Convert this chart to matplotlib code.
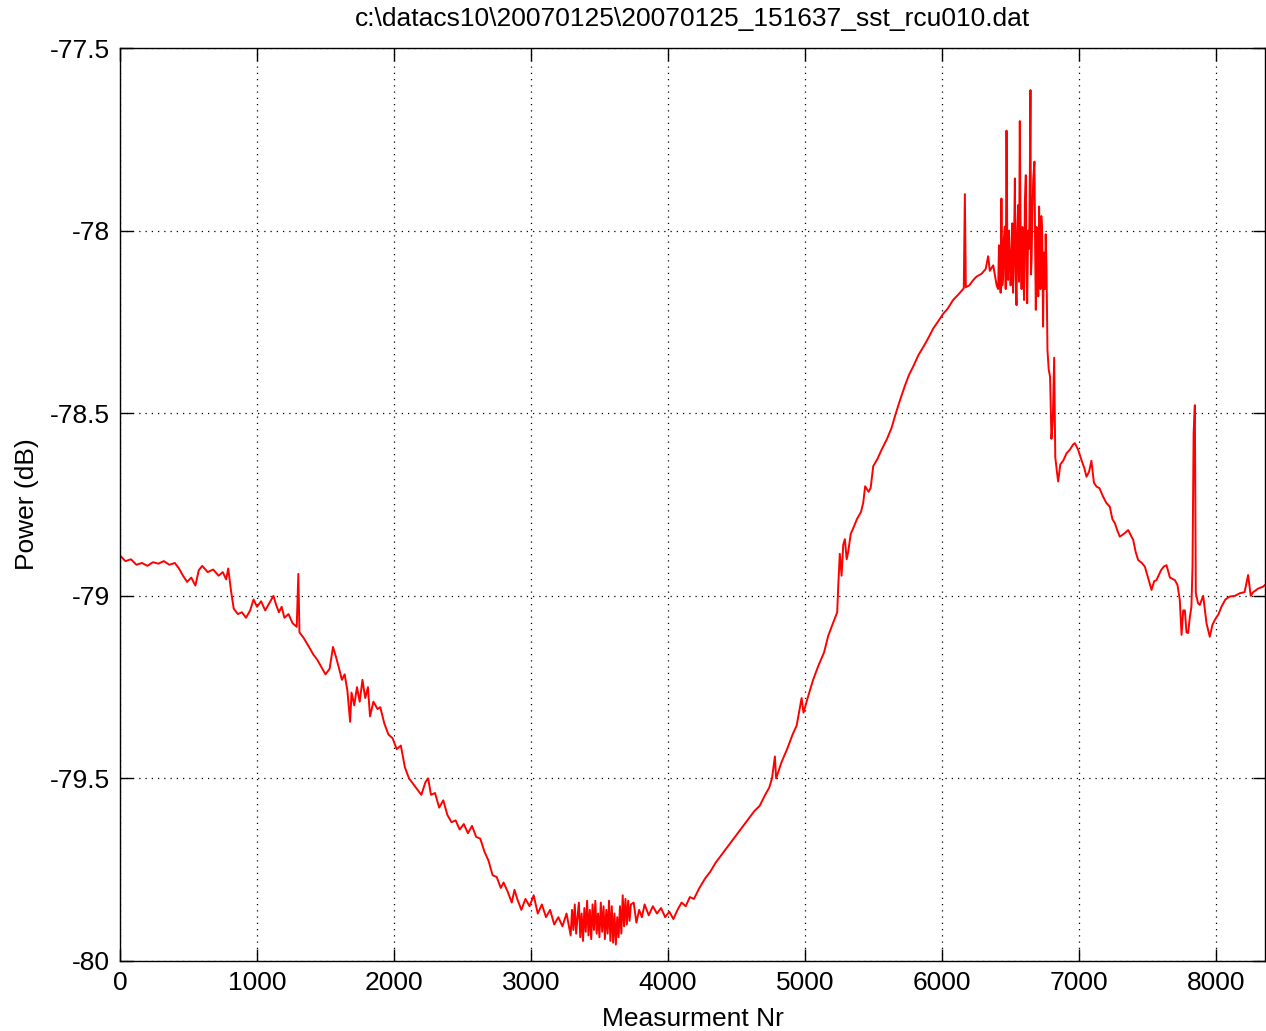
import matplotlib
matplotlib.use("Agg")
import matplotlib.pyplot as plt

# Values, split into stretches of the trace.
# start: flat part and first drop
start_nr = [0, 40, 80, 120, 160, 200, 240, 280, 320, 360, 400, 430, 460, 490,
            520, 550, 575, 600, 640, 680, 720, 750, 775, 790, 810, 830, 860,
            890, 920, 950, 975, 1000, 1030, 1060, 1090, 1120, 1140, 1160,
            1180, 1200, 1230, 1260, 1290, 1302]
start_db = [-78.890, -78.905, -78.900, -78.915, -78.910, -78.918, -78.908,
            -78.912, -78.905, -78.915, -78.910, -78.925, -78.945, -78.962,
            -78.950, -78.972, -78.930, -78.918, -78.935, -78.928, -78.945,
            -78.935, -78.955, -78.925, -78.985, -79.035, -79.050, -79.045,
            -79.060, -79.040, -79.010, -79.030, -79.015, -79.040, -79.020,
            -79.000, -79.025, -79.045, -79.030, -79.060, -79.050, -79.075,
            -79.085, -78.940]

# descent towards the minimum
descent_nr = [1310, 1340, 1380, 1410, 1440, 1470, 1500, 1530, 1555, 1575,
              1600, 1620, 1640, 1660, 1680, 1690, 1710, 1730, 1750, 1770,
              1790, 1810, 1825, 1850, 1880, 1900, 1930, 1960, 1990, 2020,
              2050, 2080, 2110, 2140, 2170, 2200, 2230, 2250, 2270, 2300,
              2330, 2360, 2390, 2420, 2450, 2480, 2510, 2540, 2570, 2600,
              2630, 2660, 2690, 2720, 2750, 2780, 2800, 2830, 2860, 2880]
descent_db = [-79.100, -79.115, -79.140, -79.160, -79.175, -79.195, -79.215,
              -79.200, -79.140, -79.165, -79.200, -79.230, -79.215, -79.260,
              -79.345, -79.265, -79.300, -79.250, -79.290, -79.230, -79.280,
              -79.250, -79.330, -79.290, -79.310, -79.305, -79.350, -79.380,
              -79.390, -79.420, -79.410, -79.470, -79.500, -79.515, -79.530,
              -79.545, -79.510, -79.500, -79.545, -79.540, -79.580, -79.560,
              -79.600, -79.620, -79.615, -79.640, -79.625, -79.650, -79.630,
              -79.660, -79.665, -79.700, -79.725, -79.765, -79.770, -79.800,
              -79.785, -79.810, -79.840, -79.805]

# trough, with the dense noise band around 3300-3700
trough_nr = [2900, 2930, 2960, 2990, 3020, 3050, 3080, 3110, 3140, 3170,
             3200, 3230, 3260, 3290, 3300, 3310, 3320, 3330, 3340, 3350,
             3360, 3370, 3380, 3390, 3400, 3410, 3420, 3430, 3440, 3450,
             3460, 3470, 3480, 3490, 3500, 3510, 3520, 3530, 3540, 3550,
             3560, 3570, 3580, 3590, 3600, 3610, 3620, 3630, 3640, 3650,
             3660, 3670, 3680, 3690, 3700, 3710, 3720, 3730, 3750, 3770,
             3790, 3810, 3830, 3860, 3890, 3920, 3950, 3980, 4010, 4040,
             4070, 4100, 4130, 4160, 4190]
trough_db = [-79.830, -79.860, -79.830, -79.850, -79.820, -79.870, -79.845,
             -79.880, -79.860, -79.900, -79.880, -79.905, -79.870, -79.930,
             -79.860, -79.915, -79.845, -79.925, -79.880, -79.840, -79.935,
             -79.870, -79.945, -79.855, -79.920, -79.835, -79.930, -79.860,
             -79.940, -79.845, -79.915, -79.835, -79.925, -79.870, -79.935,
             -79.840, -79.920, -79.850, -79.940, -79.860, -79.925, -79.835,
             -79.945, -79.850, -79.950, -79.870, -79.955, -79.880, -79.935,
             -79.850, -79.925, -79.820, -79.905, -79.830, -79.900, -79.835,
             -79.890, -79.845, -79.840, -79.895, -79.860, -79.880, -79.845,
             -79.875, -79.850, -79.870, -79.855, -79.880, -79.865, -79.885,
             -79.860, -79.840, -79.850, -79.825, -79.830]

# long rise up to the maximum
rise_nr = [4230, 4270, 4310, 4350, 4390, 4430, 4470, 4510, 4550, 4590, 4630,
           4670, 4710, 4740, 4760, 4781, 4790, 4830, 4870, 4910, 4940, 4976,
           4990, 5020, 5060, 5100, 5140, 5170, 5200, 5236, 5244, 5255, 5268,
           5280, 5292, 5305, 5316, 5335, 5353, 5380, 5410, 5426, 5440, 5465,
           5480, 5499, 5530, 5560, 5600, 5633, 5660, 5693, 5730, 5760, 5791,
           5830, 5864, 5900, 5937, 5970, 6009, 6040, 6082, 6120, 6160]
rise_db = [-79.800, -79.775, -79.755, -79.730, -79.710, -79.690, -79.670,
           -79.650, -79.630, -79.610, -79.590, -79.575, -79.545, -79.525,
           -79.500, -79.440, -79.500, -79.455, -79.420, -79.380, -79.355,
           -79.280, -79.320, -79.280, -79.230, -79.190, -79.155, -79.110,
           -79.080, -79.045, -78.970, -78.885, -78.945, -78.860, -78.845,
           -78.900, -78.880, -78.830, -78.815, -78.790, -78.770, -78.745,
           -78.700, -78.715, -78.705, -78.645, -78.625, -78.600, -78.570,
           -78.540, -78.505, -78.466, -78.425, -78.395, -78.372, -78.340,
           -78.319, -78.295, -78.268, -78.250, -78.228, -78.215, -78.190,
           -78.175, -78.158]

# spiky plateau around the maximum
peak_nr = [6168, 6175, 6200, 6230, 6253, 6290, 6320, 6338, 6350, 6375, 6400,
           6411, 6417, 6423, 6429, 6435, 6441, 6447, 6453, 6460, 6466, 6472,
           6478, 6484, 6490, 6496, 6502, 6508, 6514, 6520, 6527, 6533, 6539,
           6545, 6551, 6557, 6563, 6569, 6576, 6582, 6588, 6594, 6600, 6606,
           6613, 6618, 6623, 6630, 6637, 6642, 6647, 6651, 6655, 6661, 6667,
           6676, 6681, 6686, 6692, 6698, 6704, 6710, 6715, 6720, 6726, 6732,
           6739, 6745, 6752, 6758, 6764, 6771]
peak_db = [-77.900, -78.155, -78.150, -78.135, -78.126, -78.118, -78.105,
           -78.070, -78.110, -78.095, -78.150, -78.160, -78.040, -78.090,
           -78.170, -77.912, -78.150, -78.126, -78.020, -77.989, -78.160,
           -77.726, -78.050, -78.135, -78.000, -78.060, -78.150, -78.080,
           -77.980, -78.170, -78.040, -77.857, -78.120, -78.204, -78.000,
           -77.930, -78.140, -77.700, -78.060, -78.160, -77.990, -78.080,
           -78.190, -77.920, -77.848, -78.100, -78.199, -78.000, -78.050,
           -77.860, -77.615, -78.120, -78.080, -77.950, -77.860, -77.811,
           -78.050, -78.217, -77.990, -78.100, -78.180, -77.934, -78.080,
           -78.160, -77.960, -78.000, -78.263, -78.060, -78.160, -78.010,
           -78.100, -78.327]

# drop after the maximum and the tail
tail_nr = [6780, 6790, 6800, 6810, 6820, 6828, 6840, 6849, 6865, 6886, 6910,
           6934, 6960, 6971, 6995, 7019, 7040, 7056, 7075, 7092, 7110, 7129,
           7150, 7178, 7200, 7226, 7245, 7263, 7280, 7299, 7330, 7360, 7397,
           7415, 7433, 7460, 7482, 7505, 7531, 7550, 7567, 7600, 7620, 7640,
           7665, 7701, 7720, 7737, 7750, 7762, 7774, 7786, 7798, 7810, 7822,
           7830, 7838, 7847, 7854, 7870, 7883, 7908, 7932, 7956, 7975, 7993,
           8020, 8041, 8070, 8102, 8140, 8175, 8210, 8236, 8255, 8273, 8310,
           8345, 8360]
tail_db = [-78.380, -78.400, -78.570, -78.520, -78.348, -78.620, -78.660,
           -78.687, -78.640, -78.630, -78.610, -78.600, -78.585, -78.582,
           -78.600, -78.628, -78.650, -78.674, -78.660, -78.630, -78.690,
           -78.701, -78.705, -78.729, -78.745, -78.756, -78.790, -78.801,
           -78.820, -78.838, -78.830, -78.820, -78.847, -78.880, -78.902,
           -78.910, -78.920, -78.950, -78.984, -78.960, -78.957, -78.930,
           -78.920, -78.916, -78.950, -78.957, -78.970, -79.011, -79.107,
           -79.040, -79.040, -79.100, -79.102, -79.060, -79.030, -78.920,
           -78.555, -78.478, -78.992, -79.020, -79.025, -79.000, -79.075,
           -79.112, -79.080, -79.066, -79.050, -79.030, -79.010, -79.002,
           -79.000, -78.993, -78.990, -78.943, -79.000, -78.990, -78.980,
           -78.975, -78.970]

meas_nr = start_nr + descent_nr + trough_nr + rise_nr + peak_nr + tail_nr
power_db = start_db + descent_db + trough_db + rise_db + peak_db + tail_db

x_ticks = [0, 1000, 2000, 3000, 4000, 5000, 6000, 7000, 8000]
y_ticks = [-80, -79.5, -79, -78.5, -78, -77.5]
y_ticklabels = ["-80", "-79.5", "-79", "-78.5", "-78", "-77.5"]

plt.rcParams["font.family"] = ["Liberation Sans", "DejaVu Sans"]

fig = plt.figure(figsize=(12.66, 10.31), dpi=100)
ax = fig.add_axes([0.0948, 0.0679, 0.9045, 0.8855])

ax.plot(meas_nr, power_db, color="#ff0000", linewidth=1.4)

ax.set_xlim(0, 8360)
ax.set_ylim(-80, -77.5)
ax.set_xticks(x_ticks)
ax.set_yticks(y_ticks)
ax.set_yticklabels(y_ticklabels)
ax.tick_params(direction="in", length=9, width=1, labelsize=19,
               top=True, right=True, pad=7)
ax.grid(True, linestyle=(0, (1, 4)), color="black", linewidth=0.9)
for sp in ax.spines.values():
    sp.set_linewidth(1)

ax.set_title(r"c:\datacs10\20070125\20070125_151637_sst_rcu010.dat",
             fontsize=19, pad=16)
ax.set_xlabel("Measurment Nr", fontsize=19, labelpad=9)
ax.set_ylabel("Power (dB)", fontsize=19, labelpad=8)

fig.savefig("out.png", dpi=100)
